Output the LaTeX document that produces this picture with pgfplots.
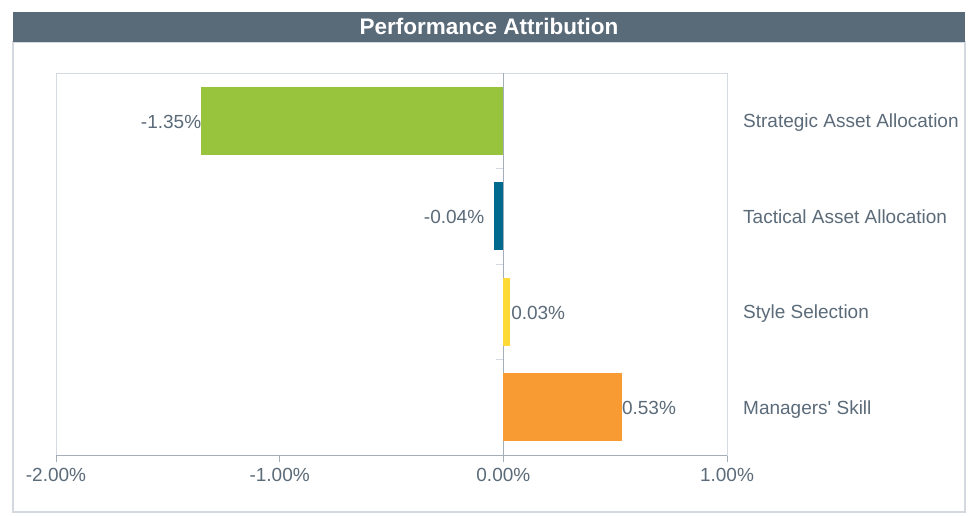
\documentclass[border=0pt]{standalone}
\usepackage{pgfplots}
\pgfplotsset{compat=1.18}
\usepackage{fontspec}
\setmainfont{Liberation Sans}[Ligatures=TeXOff]
\definecolor{titlebar}{HTML}{596A79}
\definecolor{txt}{HTML}{5B6B79}
\definecolor{frame}{HTML}{D3D9DF}
\definecolor{axl}{HTML}{D5DAE0}
\definecolor{axd}{HTML}{A3AEB9}
\definecolor{cgreen}{HTML}{97C43C}
\definecolor{cblue}{HTML}{006A8E}
\definecolor{cyellow}{HTML}{FFD935}
\definecolor{corange}{HTML}{F99B33}
\begin{document}
\begin{tikzpicture}[x=1pt,y=1pt]
\path[fill=white] (0,0) rectangle (973,515);
\draw[frame,line width=1.2pt,fill=white] (13,3) rectangle (965,473);
\fill[titlebar] (13,473) rectangle (965,503);
\node[text=white,font=\fontsize{22.5}{26}\selectfont\bfseries] at (489,489) {Performance Attribution};
\begin{axis}[
  at={(56pt,60pt)}, anchor=south west,
  width=671pt, height=382pt, scale only axis,
  xbar, bar width=68pt,
  xmin=-2, xmax=1, ymin=-0.5, ymax=3.5,
  xtick={-2,-1,0,1},
  xticklabels={-2.00\%,-1.00\%,0.00\%,1.00\%},
  xtick pos=bottom, tick align=outside,
  major tick length=7pt,
  xtick style={draw=axd, line width=0.8pt},
  ytick={0,1,2,3},
  yticklabels={Managers' Skill,Style Selection,Tactical Asset Allocation,Strategic Asset Allocation},
  yticklabel pos=right,
  ytick style={draw=none},
  yticklabel style={anchor=base west, xshift=7pt, yshift=-6.8pt},
  xticklabel style={yshift=-4pt},
  ticklabel style={text=txt, font=\fontsize{19}{22}\selectfont, inner sep=2pt},
  axis line style={draw=axl, line width=0.8pt},
  /pgf/number format/assume math mode=true,
  nodes near coords, point meta=explicit symbolic,
  every node near coord/.append style={text=txt, font=\fontsize{19}{22}\selectfont, inner sep=1pt, yshift=-1pt},
  clip=false,
]
\draw[axd, line width=0.8pt] (axis cs:0,-0.5) -- (axis cs:0,3.5);
\draw[axl, line width=1pt] (axis cs:0,0.5) -- (axis cs:-0.031,0.5);
\draw[axl, line width=1pt] (axis cs:0,1.5) -- (axis cs:-0.031,1.5);
\draw[axl, line width=1pt] (axis cs:0,2.5) -- (axis cs:-0.031,2.5);
\addplot[fill=cgreen, draw=none, bar shift=0pt, every node near coord/.append style={anchor=east, xshift=1pt}] coordinates {(-1.35,3) [-1.35\%]};
\addplot[fill=cblue, draw=none, bar shift=0pt, every node near coord/.append style={anchor=east, xshift=-9pt}] coordinates {(-0.04,2) [-0.04\%]};
\addplot[fill=cyellow, draw=none, bar shift=0pt, every node near coord/.append style={anchor=west}] coordinates {(0.03,1) [0.03\%]};
\addplot[fill=corange, draw=none, bar shift=0pt, every node near coord/.append style={anchor=west, xshift=-1pt}] coordinates {(0.53,0) [0.53\%]};
\draw[axd, line width=1pt] (rel axis cs:0,0) -- (rel axis cs:1,0);
\end{axis}
\end{tikzpicture}
\end{document}
